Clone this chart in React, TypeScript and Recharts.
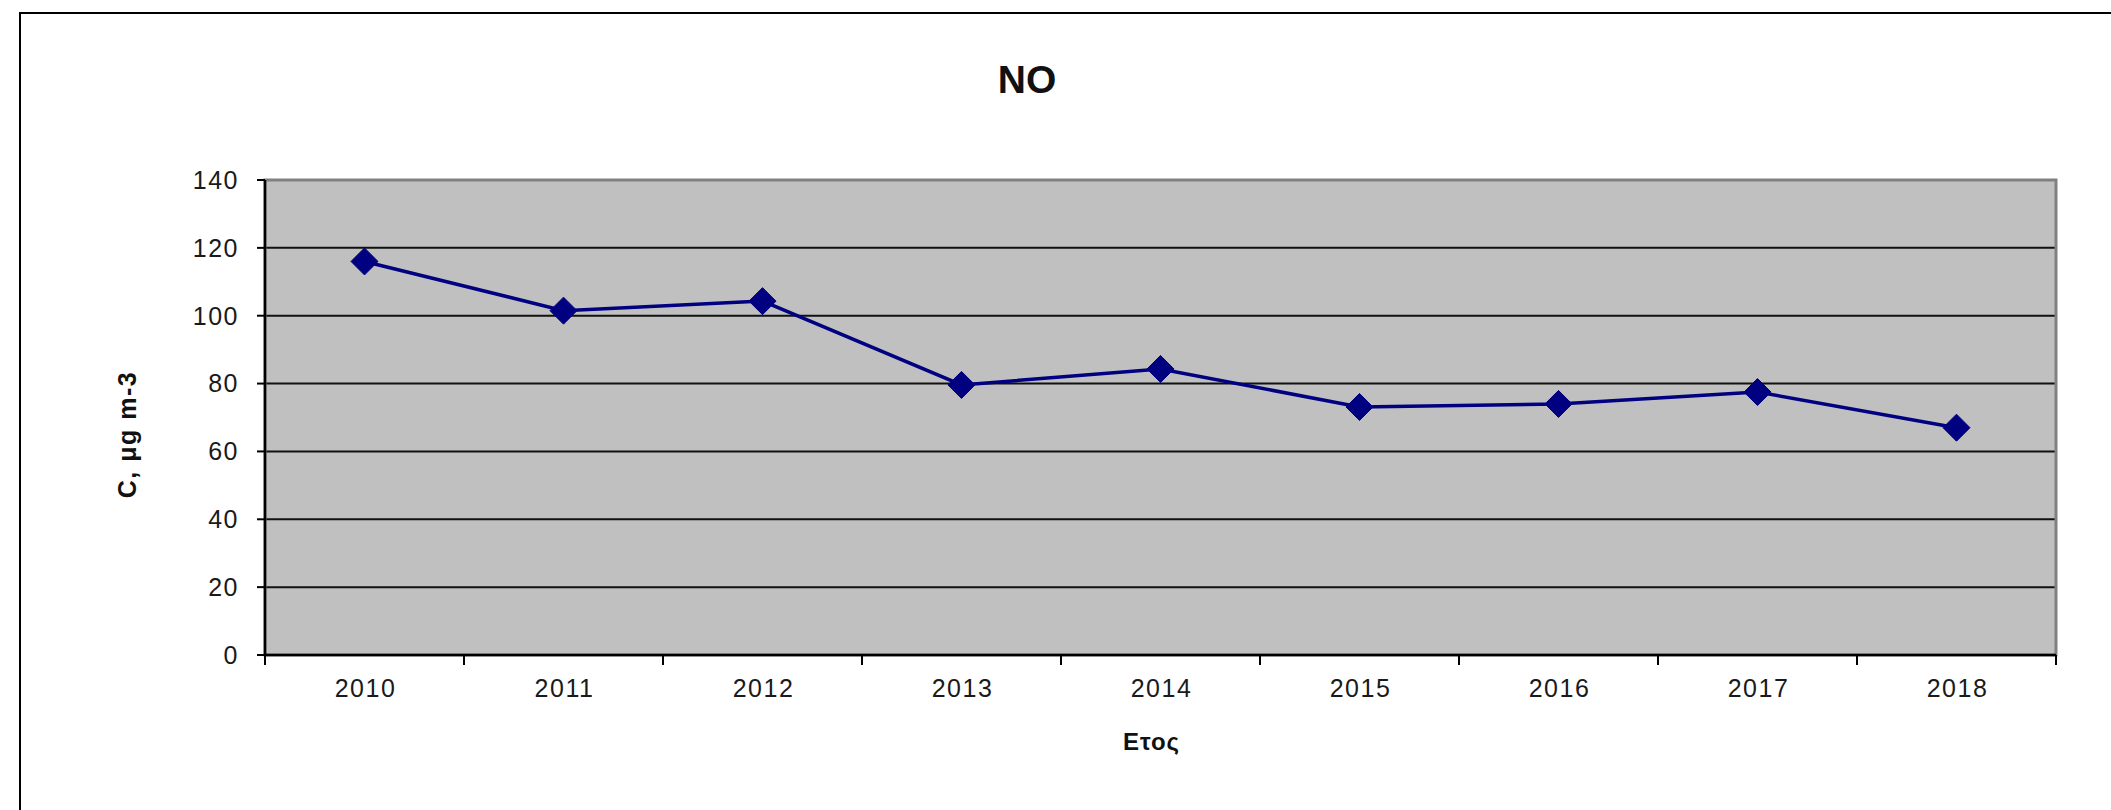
import React from 'react';
import { CartesianGrid, Label, Line, LineChart, ReferenceArea, XAxis, YAxis } from 'recharts';

// NO annual means, 2010-2018
const years = ['2010', '2011', '2012', '2013', '2014', '2015', '2016', '2017', '2018'];
const noValues = [116, 101.5, 104.3, 79.6, 84.3, 73.1, 74, 77.5, 67];
const yTicks = [0, 20, 40, 60, 80, 100, 120, 140];

const data = years.map((year, i) => ({ year, no: noValues[i] }));

const WIDTH = 2111;
const HEIGHT = 810;
const margin = { top: 180, right: 55, bottom: 55, left: 0 };
const Y_AXIS_W = 265;
const X_AXIS_H = 100;
const FONT = '"Liberation Sans", Arial, Helvetica, sans-serif';

const plotWidth = WIDTH - margin.left - margin.right - Y_AXIS_W;
const band = plotWidth / years.length;

// year label centred in its band, tick marks on the band edges
function YearTick({ x, y, payload, index }: any) {
  const half = band / 2;
  const last = index === years.length - 1;
  return (
    <g>
      <line x1={x - half} x2={x - half} y1={y} y2={y + 10} stroke="#000" strokeWidth={2} />
      {last && <line x1={x + half} x2={x + half} y1={y} y2={y + 10} stroke="#000" strokeWidth={2} />}
      <text
        x={x + 1}
        y={y + 42}
        textAnchor="middle"
        fontSize={25}
        letterSpacing={1.5}
        fontFamily={FONT}
        fill="#1a1a1a"
      >
        {payload.value}
      </text>
    </g>
  );
}

function Diamond({ cx, cy }: any) {
  if (cx == null || cy == null) return null;
  const r = 13.5;
  return (
    <polygon
      points={`${cx},${cy - r} ${cx + r},${cy} ${cx},${cy + r} ${cx - r},${cy}`}
      fill="#000080"
      stroke="#000080"
      strokeWidth={1}
    />
  );
}

function YTitle(props: any) {
  const vb = props.viewBox ?? { x: margin.left, y: margin.top, width: Y_AXIS_W, height: 475 };
  const cx = vb.x + 127;
  const cy = vb.y + vb.height / 2 + 17;
  return (
    <text
      x={cx}
      y={cy}
      transform={`rotate(-90, ${cx}, ${cy})`}
      textAnchor="middle"
      dominantBaseline="central"
      fontSize={25}
      letterSpacing={1.5}
      fontWeight="bold"
      fontFamily={FONT}
      fill="#111"
    >
      C, μg m-3
    </text>
  );
}

function XTitle(props: any) {
  const vb = props.viewBox ?? { x: margin.left + Y_AXIS_W, y: HEIGHT - margin.bottom - X_AXIS_H, width: plotWidth, height: X_AXIS_H };
  return (
    <text
      x={vb.x + vb.width / 2 - 9}
      y={vb.y + 95}
      textAnchor="middle"
      fontSize={24}
      letterSpacing={1}
      fontWeight="bold"
      fontFamily={FONT}
      fill="#111"
    >
      Ετος
    </text>
  );
}

export default function App() {
  return (
    <div
      style={{
        position: 'absolute',
        top: 0,
        left: 0,
        width: WIDTH,
        height: HEIGHT,
        overflow: 'hidden',
        background: '#fff',
        fontFamily: FONT,
      }}
    >
      <div
        style={{
          position: 'absolute',
          left: 19,
          top: 12,
          width: 2300,
          height: 1000,
          border: '2px solid #000',
        }}
      />
      <div
        style={{
          position: 'absolute',
          left: 0,
          top: 60,
          width: 2054,
          textAlign: 'center',
          fontSize: 39,
          lineHeight: '39px',
          fontWeight: 'bold',
          color: '#111',
        }}
      >
        NO
      </div>
      <div style={{ position: 'absolute', left: 0, top: 0 }}>
        <LineChart width={WIDTH} height={HEIGHT} data={data} margin={margin}>
          <CartesianGrid
            vertical={false}
            stroke="#111"
            strokeWidth={2}
            fill="#c0c0c0"
            fillOpacity={1}
          />
          <ReferenceArea y1={0} y2={140} fill="none" stroke="#808080" strokeWidth={3} />
          <XAxis
            dataKey="year"
            scale="band"
            height={X_AXIS_H}
            tickLine={false}
            tickSize={0}
            tickMargin={0}
            axisLine={{ stroke: '#000', strokeWidth: 2.5 }}
            tick={<YearTick />}
            interval={0}
          >
            <Label content={XTitle} />
          </XAxis>
          <YAxis
            width={Y_AXIS_W}
            domain={[0, 140]}
            ticks={yTicks}
            interval={0}
            tickSize={8}
            tickMargin={18}
            axisLine={{ stroke: '#000', strokeWidth: 2.5 }}
            tickLine={{ stroke: '#000', strokeWidth: 2 }}
            tick={{ fontSize: 25, fill: '#1a1a1a', fontFamily: FONT, letterSpacing: 1.5 }}
          >
            <Label content={YTitle} />
          </YAxis>
          <Line
            type="linear"
            dataKey="no"
            stroke="#000080"
            strokeWidth={3.5}
            dot={<Diamond />}
            activeDot={false}
            isAnimationActive={false}
          />
        </LineChart>
      </div>
    </div>
  );
}
